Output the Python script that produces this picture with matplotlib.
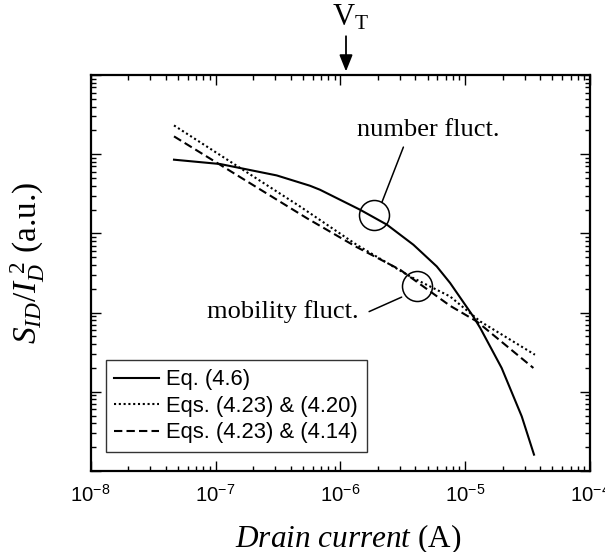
import matplotlib
matplotlib.use('Agg')
import matplotlib.pyplot as plt
import numpy as np

plt.rcParams['font.family'] = 'Liberation Sans'
plt.rcParams['mathtext.fontset'] = 'custom'
plt.rcParams['mathtext.rm'] = 'Liberation Serif'
plt.rcParams['mathtext.it'] = 'Liberation Serif:italic'
plt.rcParams['axes.unicode_minus'] = False

# Eq. (4.6) - number fluctuation
x_num = [4.65e-8, 1.09e-7, 3.09e-7, 5.71e-7, 6.87e-7, 1.44e-6, 2.36e-6, 3.85e-6,
         5.92e-6, 7.57e-6, 1.16e-5, 1.32e-5, 1.96e-5, 2.84e-5, 3.56e-5]
y_num = [8.53e-2, 7.52e-2, 5.40e-2, 4.00e-2, 3.56e-2, 1.99e-2, 1.29e-2, 7.19e-3,
         3.83e-3, 2.37e-3, 8.95e-4, 6.40e-4, 2.00e-4, 4.89e-5, 1.61e-5]
# Eqs. (4.23) & (4.20)
x_mob1 = [4.65e-8, 4.75e-7, 1.35e-6, 3.62e-6, 7.57e-6, 1.32e-5, 3.62e-5]
y_mob1 = [0.231, 2.19e-2, 7.19e-3, 2.86e-3, 1.60e-3, 7.74e-4, 2.94e-4]
# Eqs. (4.23) & (4.14)
x_mob2 = [4.65e-8, 5.38e-7, 1.35e-6, 3.01e-6, 7.57e-6, 1.24e-5, 3.52e-5]
y_mob2 = [0.168, 1.56e-2, 6.73e-3, 3.48e-3, 1.22e-3, 7.74e-4, 2.00e-4]

labels = ['Eq. (4.6)', 'Eqs. (4.23) & (4.20)', 'Eqs. (4.23) & (4.14)']
vt_current = 1.11e-6

fig = plt.figure(figsize=(6.05, 5.52), dpi=100)
ax = fig.add_axes([0.1499, 0.1467, 0.8253, 0.7174])

ax.plot(x_num, y_num, color='black', lw=1.5, ls='-', label=labels[0])
ax.plot(x_mob1, y_mob1, color='black', lw=1.5, ls=(0, (1, 1.3)), label=labels[1])
ax.plot(x_mob2, y_mob2, color='black', lw=1.5, ls=(0, (4, 2)), label=labels[2])

ax.set_xscale('log')
ax.set_yscale('log')
ax.set_xlim(1e-8, 1e-4)
ax.set_ylim(1e-5, 1e0)

for s in ax.spines.values():
    s.set_linewidth(1.6)
ax.tick_params(which='both', direction='in', top=True, right=True, width=1.0, labelsize=14.7)
ax.tick_params(which='major', length=7)
ax.tick_params(which='minor', length=3.5)
ax.yaxis.set_major_locator(matplotlib.ticker.LogLocator(base=10, numticks=10))
ax.yaxis.set_minor_locator(matplotlib.ticker.LogLocator(base=10, subs=np.arange(2, 10), numticks=10))
ax.xaxis.set_minor_locator(matplotlib.ticker.LogLocator(base=10, subs=np.arange(2, 10), numticks=10))
ax.yaxis.set_major_formatter(matplotlib.ticker.NullFormatter())
ax.yaxis.set_minor_formatter(matplotlib.ticker.NullFormatter())
ax.xaxis.set_minor_formatter(matplotlib.ticker.NullFormatter())
ax.tick_params(axis='x', pad=9)

ax.set_xlabel(r'$\mathit{Drain\ current}$ (A)', family='Liberation Serif', fontsize=22.5)
ax.xaxis.set_label_coords(0.516, -0.131)
ax.set_ylabel(r'$S_{ID}/I_D^{\ 2}$ (a.u.)', family='Liberation Serif', fontsize=24)
ax.yaxis.set_label_coords(-0.088, 0.525)

# circles marking the regions
ax.plot([1.86e-6], [1.69e-2], marker='o', ms=21.6, mfc='none', mec='black', mew=1.1)
ax.plot([4.09e-6], [2.19e-3], marker='o', ms=21.6, mfc='none', mec='black', mew=1.1)
ax.annotate('', xy=(2.15e-6, 2.46e-2), xytext=(3.20e-6, 0.123),
            arrowprops=dict(arrowstyle='-', lw=1.1, color='black', shrinkA=0, shrinkB=0))
ax.annotate('', xy=(3.10e-6, 1.57e-3), xytext=(1.70e-6, 1.03e-3),
            arrowprops=dict(arrowstyle='-', lw=1.1, color='black', shrinkA=0, shrinkB=0))
ax.text(5.05e-6, 0.204, 'number fluct.', family='Liberation Serif', fontsize=19,
        ha='center', va='center')
ax.text(3.47e-7, 1.03e-3, 'mobility fluct.', family='Liberation Serif', fontsize=19,
        ha='center', va='center')

# threshold arrow above the frame
ax.annotate('', xy=(vt_current, 1.009), xycoords=('data', 'axes fraction'),
            xytext=(vt_current, 1.098), textcoords=('data', 'axes fraction'),
            arrowprops=dict(arrowstyle='-|>,head_length=1.0,head_width=0.4', lw=1.3,
                            color='black', shrinkA=0, shrinkB=0))
ax.text(vt_current * 1.09, 1.145, r'$\mathrm{V}_\mathrm{T}$', transform=ax.get_xaxis_transform(),
        fontsize=22, ha='center', va='center')

leg = ax.legend(loc='lower left', bbox_to_anchor=(0.030, 0.048), borderaxespad=0,
                fontsize=15.8, frameon=True, fancybox=False, edgecolor='black',
                handlelength=2.05, handletextpad=0.3, labelspacing=0.25, borderpad=0.4)
leg.get_frame().set_linewidth(1.0)

fig.savefig('out.png', dpi=100)
